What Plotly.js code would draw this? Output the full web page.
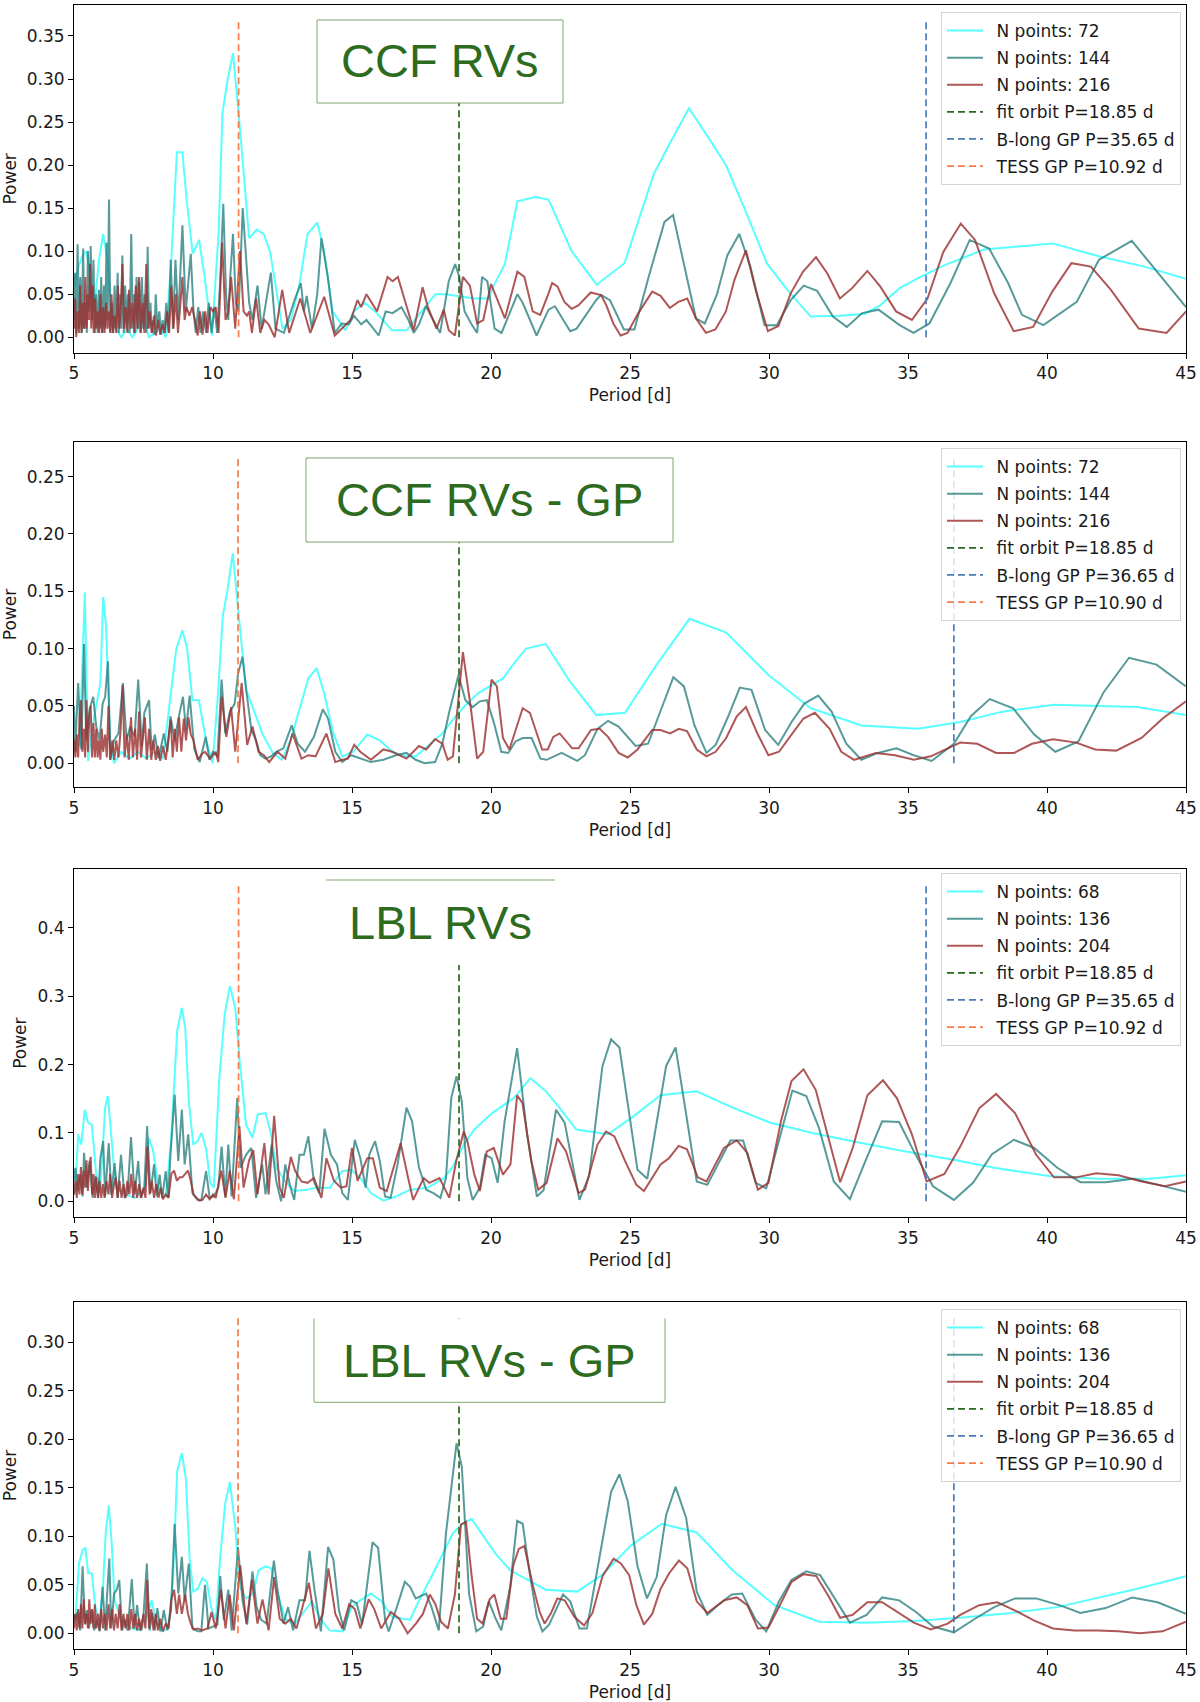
<!DOCTYPE html>
<html>
<head>
<meta charset="utf-8">
<script src="https://cdn.plot.ly/plotly-3.0.1.min.js"></script>
<style>
  html, body { margin: 0; padding: 0; background: #fff; }
  #plot { width: 1200px; height: 1702px; }
</style>
</head>
<body>
<div id="plot"></div>
<script>
// periodograms: [period (d), power]

var ccf72 = [[5.0,0.06],[5.15,0.08],[5.3,0.095],[5.45,0.10],[5.6,0.07],[5.75,0.04],[5.9,0.09],[6.05,0.12],[6.2,0.09],[6.35,0.03],[6.5,0.01],[6.7,0.0],[6.9,0.01],[7.1,0.0],[7.3,0.01],[7.5,0.02],[7.7,0.0],[7.9,0.005],[8.1,0.01],[8.3,0.0],[8.5,0.09],[8.7,0.215],[8.9,0.215],[9.05,0.16],[9.27,0.097],[9.5,0.113],[9.7,0.07],[9.96,0.002],[10.2,0.12],[10.34,0.26],[10.53,0.30],[10.72,0.33],[10.95,0.25],[11.3,0.115],[11.57,0.125],[11.82,0.12],[12.05,0.10],[12.3,0.05],[12.5,0.01],[12.8,0.02],[13.1,0.06],[13.4,0.12],[13.75,0.133],[14.0,0.10],[14.3,0.03],[14.76,0.008],[15.07,0.03],[15.45,0.04],[15.83,0.03],[16.44,0.008],[16.97,0.008],[17.5,0.03],[18.0,0.05],[18.36,0.05],[19.0,0.047],[19.4,0.045],[19.9,0.045],[20.1,0.06],[20.5,0.085],[20.95,0.158],[21.6,0.163],[22.07,0.16],[22.9,0.10],[23.8,0.061],[24.8,0.086],[25.86,0.19],[26.43,0.225],[27.12,0.266],[27.8,0.233],[28.45,0.20],[29.14,0.148],[29.92,0.086],[30.66,0.055],[31.5,0.024],[32.55,0.025],[33.43,0.027],[34.0,0.037],[34.7,0.057],[35.45,0.07],[36.34,0.084],[36.97,0.092],[37.73,0.102],[38.86,0.105],[40.2,0.109],[41.87,0.094],[43.5,0.082],[45.0,0.068]];

var ccf144 = [[5.0,0.02],[5.04,0.075],[5.08,0.005],[5.13,0.108],[5.18,0.01],[5.23,0.07],[5.28,0.005],[5.33,0.103],[5.37,0.01],[5.42,0.04],[5.46,0.005],[5.5,0.10],[5.55,0.03],[5.6,0.106],[5.65,0.02],[5.7,0.09],[5.75,0.005],[5.8,0.05],[5.85,0.005],[5.9,0.055],[5.94,0.01],[5.98,0.07],[6.03,0.005],[6.08,0.06],[6.12,0.01],[6.17,0.11],[6.21,0.02],[6.26,0.16],[6.31,0.005],[6.36,0.04],[6.41,0.005],[6.46,0.06],[6.52,0.01],[6.57,0.075],[6.61,0.005],[6.65,0.05],[6.7,0.01],[6.74,0.095],[6.79,0.005],[6.84,0.06],[6.89,0.01],[6.94,0.05],[7.0,0.005],[7.06,0.12],[7.11,0.01],[7.16,0.05],[7.2,0.005],[7.25,0.07],[7.3,0.01],[7.34,0.065],[7.39,0.005],[7.44,0.07],[7.49,0.01],[7.54,0.05],[7.6,0.005],[7.65,0.105],[7.7,0.01],[7.75,0.04],[7.8,0.005],[7.84,0.02],[7.89,0.003],[7.94,0.05],[8.0,0.01],[8.07,0.03],[8.13,0.003],[8.19,0.02],[8.25,0.005],[8.32,0.04],[8.4,0.005],[8.48,0.09],[8.56,0.01],[8.65,0.09],[8.75,0.02],[8.9,0.13],[9.02,0.03],[9.1,0.06],[9.2,0.097],[9.3,0.03],[9.38,0.005],[9.47,0.035],[9.55,0.005],[9.65,0.03],[9.75,0.005],[9.85,0.04],[9.95,0.005],[10.05,0.035],[10.15,0.005],[10.25,0.06],[10.37,0.155],[10.47,0.05],[10.55,0.02],[10.62,0.07],[10.72,0.12],[10.82,0.04],[10.92,0.03],[11.07,0.15],[11.2,0.08],[11.3,0.04],[11.42,0.02],[11.6,0.06],[11.75,0.01],[11.9,0.04],[12.08,0.075],[12.25,0.01],[12.55,0.005],[12.9,0.04],[13.16,0.063],[13.27,0.03],[13.37,0.048],[13.56,0.01],[13.75,0.05],[13.9,0.115],[14.13,0.07],[14.38,0.005],[14.63,0.016],[14.89,0.015],[15.07,0.025],[15.33,0.015],[15.52,0.02],[15.77,0.01],[15.96,0.002],[16.21,0.03],[16.46,0.028],[16.78,0.035],[17.03,0.02],[17.22,0.005],[17.41,0.015],[17.66,0.036],[17.85,0.025],[18.17,0.005],[18.48,0.065],[18.71,0.085],[18.86,0.07],[19.05,0.03],[19.3,0.015],[19.5,0.005],[19.68,0.07],[19.87,0.065],[20.13,0.01],[20.38,0.005],[20.95,0.05],[21.14,0.04],[21.64,0.002],[22.07,0.032],[22.3,0.036],[22.85,0.007],[23.08,0.01],[23.78,0.043],[23.96,0.049],[24.28,0.043],[24.78,0.009],[25.16,0.009],[25.67,0.07],[26.24,0.134],[26.55,0.142],[27.37,0.022],[27.69,0.016],[28.13,0.05],[28.5,0.095],[28.93,0.12],[29.33,0.082],[29.84,0.014],[30.28,0.014],[30.78,0.043],[31.25,0.06],[31.73,0.054],[32.3,0.024],[32.8,0.012],[33.35,0.028],[33.94,0.032],[34.7,0.014],[35.2,0.005],[35.77,0.016],[36.53,0.063],[37.22,0.113],[37.92,0.103],[38.6,0.063],[39.1,0.026],[39.87,0.014],[41.07,0.041],[41.87,0.09],[43.05,0.112],[45.0,0.035]];

var ccf216 = [[5.0,0.01],[5.04,0.045],[5.08,0.0],[5.13,0.03],[5.18,0.005],[5.22,0.06],[5.27,0.005],[5.32,0.04],[5.36,0.01],[5.41,0.07],[5.45,0.01],[5.5,0.05],[5.54,0.02],[5.58,0.085],[5.62,0.01],[5.67,0.06],[5.71,0.005],[5.76,0.045],[5.8,0.01],[5.85,0.03],[5.9,0.005],[5.95,0.05],[6.0,0.005],[6.05,0.035],[6.1,0.005],[6.15,0.04],[6.2,0.01],[6.25,0.03],[6.3,0.005],[6.35,0.05],[6.4,0.005],[6.46,0.025],[6.52,0.005],[6.58,0.06],[6.63,0.01],[6.69,0.04],[6.74,0.085],[6.8,0.01],[6.86,0.035],[6.92,0.005],[6.98,0.055],[7.04,0.01],[7.1,0.04],[7.16,0.005],[7.22,0.06],[7.28,0.01],[7.34,0.07],[7.4,0.005],[7.47,0.04],[7.53,0.005],[7.6,0.085],[7.66,0.01],[7.72,0.03],[7.8,0.005],[7.88,0.025],[7.95,0.002],[8.03,0.02],[8.1,0.003],[8.18,0.015],[8.26,0.005],[8.35,0.03],[8.42,0.005],[8.5,0.06],[8.58,0.01],[8.66,0.05],[8.74,0.005],[8.83,0.04],[8.9,0.07],[8.98,0.02],[9.05,0.035],[9.15,0.025],[9.25,0.035],[9.35,0.02],[9.45,0.002],[9.53,0.03],[9.62,0.003],[9.72,0.03],[9.8,0.005],[9.9,0.035],[10.0,0.03],[10.1,0.035],[10.2,0.005],[10.33,0.11],[10.45,0.02],[10.55,0.03],[10.65,0.07],[10.8,0.01],[10.97,0.10],[11.1,0.03],[11.22,0.025],[11.3,0.03],[11.4,0.005],[11.55,0.045],[11.7,0.005],[11.85,0.02],[12.0,0.015],[12.22,0.0],[12.49,0.055],[12.74,0.005],[13.14,0.045],[13.5,0.005],[14.0,0.047],[14.38,0.002],[14.95,0.02],[15.2,0.043],[15.33,0.035],[15.52,0.05],[15.9,0.03],[16.28,0.07],[16.46,0.065],[16.65,0.07],[16.97,0.035],[17.22,0.008],[17.54,0.058],[17.73,0.035],[18.04,0.01],[18.3,0.032],[18.48,0.008],[18.7,0.002],[18.99,0.07],[19.24,0.06],[19.5,0.016],[19.72,0.02],[20.0,0.062],[20.25,0.043],[20.5,0.022],[20.95,0.076],[21.2,0.07],[21.5,0.03],[21.77,0.026],[22.07,0.051],[22.2,0.063],[22.39,0.059],[22.64,0.041],[22.9,0.033],[23.14,0.037],[23.59,0.052],[23.96,0.049],[24.15,0.037],[24.4,0.016],[24.66,0.002],[24.91,0.005],[25.3,0.028],[25.8,0.053],[26.1,0.048],[26.43,0.034],[26.74,0.041],[27.06,0.045],[27.37,0.022],[27.73,0.005],[28.07,0.009],[28.45,0.03],[28.76,0.067],[29.17,0.101],[29.52,0.055],[29.96,0.007],[30.34,0.013],[30.78,0.051],[31.22,0.076],[31.69,0.093],[32.1,0.074],[32.55,0.045],[32.99,0.057],[33.54,0.077],[34.0,0.059],[34.57,0.03],[35.14,0.02],[35.7,0.045],[36.27,0.099],[36.9,0.132],[37.41,0.113],[38.1,0.051],[38.8,0.007],[39.5,0.012],[40.19,0.053],[40.88,0.086],[41.58,0.082],[42.3,0.055],[43.3,0.01],[44.3,0.005],[45.0,0.03]];

var ccfGp72 = [[5.0,0.02],[5.2,0.015],[5.39,0.149],[5.51,0.002],[5.65,0.03],[5.8,0.05],[5.95,0.07],[6.05,0.145],[6.15,0.12],[6.3,0.02],[6.44,0.0],[6.7,0.01],[7.0,0.004],[7.3,0.01],[7.6,0.004],[7.9,0.01],[8.2,0.004],[8.47,0.058],[8.68,0.10],[8.9,0.116],[9.07,0.10],[9.26,0.055],[9.49,0.055],[9.75,0.02],[9.99,0.0],[10.19,0.064],[10.35,0.128],[10.52,0.151],[10.71,0.183],[10.93,0.128],[11.19,0.064],[11.38,0.052],[11.77,0.026],[12.15,0.009],[12.47,0.003],[12.79,0.02],[13.11,0.047],[13.43,0.074],[13.73,0.083],[14.0,0.061],[14.33,0.026],[14.65,0.006],[15.04,0.01],[15.55,0.025],[16.0,0.02],[16.45,0.01],[16.9,0.006],[17.29,0.006],[17.73,0.015],[18.25,0.026],[18.63,0.038],[19.02,0.049],[19.53,0.061],[20.04,0.068],[20.43,0.074],[20.82,0.087],[21.26,0.10],[21.97,0.104],[22.85,0.071],[23.79,0.042],[24.82,0.044],[25.96,0.086],[27.14,0.126],[28.46,0.114],[29.98,0.077],[31.5,0.048],[33.32,0.033],[35.36,0.03],[36.88,0.036],[38.4,0.045],[40.25,0.051],[43.25,0.049],[45.0,0.042]];

var ccfGp144 = [[5.0,0.05],[5.05,0.01],[5.09,0.038],[5.15,0.07],[5.26,0.012],[5.36,0.104],[5.44,0.02],[5.56,0.047],[5.69,0.058],[5.8,0.032],[5.92,0.02],[6.03,0.052],[6.12,0.058],[6.22,0.089],[6.31,0.003],[6.44,0.02],[6.6,0.026],[6.76,0.07],[6.89,0.02],[7.02,0.032],[7.18,0.023],[7.31,0.073],[7.44,0.015],[7.53,0.044],[7.7,0.055],[7.79,0.012],[7.91,0.025],[8.04,0.004],[8.23,0.026],[8.36,0.01],[8.47,0.041],[8.62,0.02],[8.75,0.038],[8.92,0.058],[9.03,0.029],[9.16,0.059],[9.33,0.012],[9.52,0.001],[9.74,0.023],[9.87,0.003],[10.0,0.01],[10.16,0.006],[10.31,0.073],[10.44,0.026],[10.61,0.045],[10.78,0.052],[10.9,0.078],[11.06,0.093],[11.21,0.061],[11.38,0.029],[11.55,0.02],[11.7,0.007],[11.89,0.004],[12.09,0.006],[12.28,0.01],[12.53,0.013],[12.83,0.033],[13.05,0.017],[13.31,0.01],[13.63,0.023],[13.95,0.047],[14.14,0.039],[14.4,0.01],[14.65,0.001],[14.97,0.007],[15.3,0.004],[15.68,0.001],[16.13,0.003],[16.58,0.007],[16.96,0.009],[17.29,0.003],[17.61,0.0],[17.99,0.001],[18.25,0.017],[18.5,0.045],[18.83,0.077],[19.08,0.055],[19.34,0.049],[19.6,0.054],[19.85,0.055],[20.11,0.035],[20.37,0.01],[20.62,0.009],[20.88,0.019],[21.14,0.022],[21.46,0.022],[21.78,0.004],[22.0,0.003],[22.54,0.009],[23.1,0.002],[23.38,0.007],[23.83,0.03],[24.21,0.037],[24.59,0.032],[25.2,0.015],[25.65,0.017],[26.1,0.045],[26.56,0.075],[26.94,0.067],[27.32,0.033],[27.75,0.009],[28.08,0.016],[28.5,0.039],[28.95,0.066],[29.37,0.064],[29.86,0.029],[30.33,0.016],[30.81,0.036],[31.27,0.052],[31.77,0.059],[32.25,0.045],[32.78,0.017],[33.32,0.003],[33.92,0.009],[34.58,0.013],[35.21,0.007],[35.85,0.002],[36.65,0.017],[37.26,0.041],[37.94,0.056],[38.78,0.048],[39.54,0.025],[40.3,0.01],[41.13,0.019],[42.04,0.062],[42.95,0.092],[43.94,0.086],[45.0,0.067]];

var ccfGp216 = [[5.0,0.02],[5.05,0.005],[5.1,0.025],[5.15,0.005],[5.2,0.04],[5.25,0.055],[5.3,0.01],[5.35,0.03],[5.4,0.005],[5.45,0.055],[5.5,0.01],[5.55,0.04],[5.6,0.05],[5.65,0.005],[5.7,0.035],[5.75,0.005],[5.8,0.03],[5.85,0.005],[5.9,0.02],[5.95,0.003],[6.0,0.03],[6.05,0.01],[6.12,0.025],[6.18,0.005],[6.24,0.05],[6.3,0.003],[6.38,0.02],[6.45,0.003],[6.52,0.02],[6.6,0.005],[6.68,0.03],[6.75,0.068],[6.82,0.005],[6.9,0.025],[6.97,0.003],[7.05,0.04],[7.12,0.005],[7.2,0.03],[7.27,0.003],[7.34,0.045],[7.41,0.005],[7.48,0.025],[7.55,0.04],[7.62,0.003],[7.7,0.03],[7.78,0.003],[7.86,0.02],[7.94,0.003],[8.02,0.015],[8.1,0.002],[8.2,0.015],[8.3,0.003],[8.4,0.02],[8.48,0.038],[8.55,0.005],[8.63,0.03],[8.7,0.01],[8.78,0.04],[8.86,0.01],[8.95,0.039],[9.03,0.02],[9.12,0.04],[9.2,0.025],[9.3,0.02],[9.45,0.003],[9.6,0.008],[9.71,0.01],[9.9,0.004],[10.1,0.01],[10.19,0.001],[10.31,0.058],[10.48,0.023],[10.65,0.049],[10.8,0.01],[11.03,0.07],[11.23,0.016],[11.42,0.032],[11.64,0.01],[11.83,0.007],[12.02,0.001],[12.32,0.01],[12.6,0.004],[12.86,0.026],[13.18,0.004],[13.43,0.007],[13.69,0.006],[14.08,0.026],[14.4,0.001],[14.65,0.003],[14.85,0.004],[15.08,0.016],[15.3,0.01],[15.68,0.003],[16.13,0.012],[16.45,0.01],[16.96,0.004],[17.41,0.015],[17.67,0.012],[17.99,0.021],[18.25,0.017],[18.44,0.003],[18.63,0.006],[18.99,0.097],[19.27,0.049],[19.5,0.004],[19.72,0.01],[20.02,0.073],[20.21,0.067],[20.43,0.022],[20.66,0.012],[21.14,0.048],[21.4,0.044],[21.84,0.012],[22.04,0.012],[22.24,0.023],[22.47,0.026],[22.92,0.013],[23.15,0.013],[23.6,0.029],[23.91,0.03],[24.21,0.023],[24.59,0.009],[24.92,0.005],[25.27,0.012],[25.8,0.029],[26.1,0.029],[26.44,0.026],[26.76,0.03],[27.05,0.028],[27.4,0.012],[27.75,0.006],[28.08,0.01],[28.46,0.022],[28.84,0.041],[29.17,0.049],[29.6,0.025],[29.98,0.007],[30.36,0.01],[30.81,0.025],[31.24,0.039],[31.65,0.044],[32.18,0.03],[32.6,0.01],[33.06,0.003],[33.85,0.009],[34.53,0.007],[35.21,0.003],[35.82,0.006],[36.43,0.013],[36.88,0.018],[37.49,0.017],[38.17,0.009],[38.82,0.009],[39.46,0.017],[40.22,0.021],[41.05,0.018],[41.73,0.012],[42.49,0.011],[43.4,0.022],[44.16,0.039],[45.0,0.054]];

var lbl68 = [[5.0,0.01],[5.05,0.02],[5.15,0.098],[5.26,0.083],[5.39,0.134],[5.51,0.115],[5.64,0.112],[5.8,0.039],[5.95,0.02],[6.12,0.137],[6.22,0.154],[6.34,0.098],[6.5,0.02],[6.82,0.01],[7.21,0.005],[7.53,0.02],[7.7,0.093],[7.85,0.073],[8.04,0.02],[8.3,0.007],[8.49,0.088],[8.71,0.249],[8.88,0.283],[9.0,0.254],[9.13,0.146],[9.29,0.083],[9.45,0.088],[9.58,0.10],[9.75,0.078],[9.9,0.027],[10.03,0.02],[10.22,0.176],[10.42,0.273],[10.61,0.315],[10.8,0.283],[10.96,0.205],[11.19,0.112],[11.42,0.093],[11.61,0.127],[11.89,0.129],[12.09,0.098],[12.28,0.049],[12.6,0.029],[12.92,0.015],[13.37,0.017],[13.75,0.02],[14.2,0.02],[14.65,0.044],[14.97,0.046],[15.3,0.034],[15.68,0.012],[16.13,0.001],[16.58,0.007],[17.09,0.017],[17.73,0.02],[18.31,0.034],[18.63,0.051],[19.02,0.083],[19.4,0.105],[20.04,0.129],[20.82,0.151],[21.42,0.18],[21.97,0.161],[22.46,0.137],[23.07,0.105],[24.21,0.098],[25.05,0.122],[26.1,0.155],[27.4,0.161],[28.69,0.137],[30.05,0.115],[31.57,0.10],[33.09,0.087],[34.76,0.074],[36.58,0.061],[38.1,0.049],[40.07,0.037],[41.89,0.033],[43.71,0.033],[45.0,0.038]];

var lbl136 = [[5.0,0.03],[5.05,0.049],[5.13,0.015],[5.22,0.039],[5.31,0.007],[5.36,0.071],[5.47,0.02],[5.56,0.059],[5.67,0.005],[5.77,0.037],[5.87,0.005],[5.95,0.063],[6.05,0.088],[6.12,0.007],[6.25,0.085],[6.34,0.01],[6.46,0.056],[6.57,0.005],[6.69,0.068],[6.82,0.005],[6.93,0.012],[7.05,0.094],[7.18,0.01],[7.31,0.059],[7.4,0.005],[7.53,0.02],[7.63,0.11],[7.75,0.012],[7.88,0.054],[7.98,0.007],[8.08,0.039],[8.17,0.005],[8.3,0.044],[8.39,0.005],[8.47,0.068],[8.62,0.156],[8.75,0.059],[8.88,0.134],[8.98,0.054],[9.11,0.098],[9.26,0.012],[9.45,0.002],[9.58,0.002],[9.75,0.044],[9.88,0.005],[10.03,0.007],[10.19,0.02],[10.31,0.08],[10.44,0.007],[10.55,0.083],[10.67,0.007],[10.87,0.151],[10.99,0.049],[11.19,0.068],[11.38,0.078],[11.55,0.005],[11.77,0.054],[11.89,0.01],[12.11,0.083],[12.28,0.029],[12.45,0.0],[12.6,0.054],[12.79,0.02],[12.92,0.002],[13.11,0.068],[13.27,0.068],[13.43,0.095],[13.63,0.029],[13.82,0.012],[14.01,0.106],[14.24,0.068],[14.46,0.054],[14.65,0.012],[14.85,0.002],[15.1,0.09],[15.3,0.063],[15.49,0.02],[15.62,0.068],[15.83,0.088],[16.0,0.059],[16.19,0.007],[16.39,0.005],[16.64,0.054],[16.96,0.137],[17.16,0.117],[17.41,0.049],[17.67,0.017],[17.93,0.012],[18.18,0.005],[18.38,0.034],[18.57,0.151],[18.76,0.183],[18.95,0.146],[19.15,0.034],[19.34,0.002],[19.6,0.02],[19.79,0.068],[20.02,0.063],[20.24,0.027],[20.49,0.117],[20.94,0.224],[21.3,0.098],[21.65,0.007],[21.89,0.016],[22.34,0.134],[22.65,0.115],[23.18,0.002],[23.53,0.037],[24.01,0.198],[24.32,0.237],[24.62,0.225],[25.27,0.046],[25.62,0.033],[26.3,0.198],[26.64,0.225],[27.4,0.029],[27.78,0.024],[28.61,0.089],[29.07,0.089],[29.52,0.027],[29.9,0.019],[30.43,0.102],[30.84,0.162],[31.34,0.154],[31.8,0.107],[32.33,0.029],[32.91,0.003],[33.47,0.059],[34.07,0.117],[34.68,0.116],[35.21,0.073],[35.9,0.022],[36.65,0.002],[37.34,0.027],[38.02,0.069],[38.81,0.09],[39.54,0.078],[40.37,0.049],[41.2,0.028],[42.11,0.028],[43.1,0.033],[44.01,0.024],[45.0,0.014]];

var lbl204 = [[5.0,0.01],[5.05,0.03],[5.1,0.005],[5.15,0.04],[5.2,0.01],[5.25,0.05],[5.3,0.01],[5.35,0.045],[5.4,0.02],[5.45,0.06],[5.5,0.015],[5.55,0.05],[5.6,0.065],[5.65,0.01],[5.7,0.04],[5.75,0.005],[5.8,0.035],[5.86,0.005],[5.92,0.03],[5.98,0.005],[6.04,0.025],[6.1,0.005],[6.17,0.03],[6.24,0.01],[6.3,0.04],[6.37,0.005],[6.44,0.025],[6.5,0.035],[6.57,0.005],[6.64,0.03],[6.71,0.005],[6.78,0.025],[6.85,0.005],[6.92,0.03],[6.99,0.01],[7.06,0.04],[7.13,0.005],[7.2,0.03],[7.27,0.005],[7.34,0.025],[7.42,0.005],[7.5,0.02],[7.57,0.005],[7.64,0.08],[7.72,0.01],[7.8,0.03],[7.88,0.005],[7.96,0.025],[8.04,0.005],[8.12,0.02],[8.2,0.003],[8.3,0.01],[8.4,0.005],[8.5,0.04],[8.6,0.045],[8.7,0.03],[8.8,0.035],[8.9,0.035],[9.0,0.04],[9.1,0.045],[9.2,0.03],[9.3,0.01],[9.4,0.005],[9.52,0.001],[9.62,0.002],[9.75,0.01],[9.88,0.003],[10.0,0.01],[10.1,0.005],[10.3,0.045],[10.45,0.005],[10.6,0.045],[10.75,0.003],[10.95,0.11],[11.1,0.02],[11.3,0.06],[11.45,0.075],[11.6,0.01],[11.85,0.085],[12.0,0.01],[12.2,0.125],[12.4,0.02],[12.55,0.005],[12.8,0.065],[12.95,0.045],[13.18,0.029],[13.4,0.027],[13.63,0.034],[13.9,0.005],[14.08,0.063],[14.35,0.03],[14.6,0.02],[14.8,0.022],[15.0,0.078],[15.2,0.03],[15.55,0.063],[15.75,0.063],[16.0,0.02],[16.25,0.015],[16.75,0.085],[17.02,0.034],[17.2,0.002],[17.58,0.034],[17.78,0.027],[18.15,0.034],[18.5,0.005],[18.75,0.059],[19.02,0.102],[19.15,0.088],[19.4,0.039],[19.6,0.015],[19.85,0.073],[20.1,0.078],[20.43,0.039],[20.7,0.054],[20.94,0.155],[21.13,0.144],[21.45,0.059],[21.7,0.017],[22.0,0.027],[22.39,0.092],[22.7,0.073],[23.15,0.012],[23.38,0.017],[23.83,0.083],[24.14,0.102],[24.44,0.095],[24.82,0.059],[25.23,0.024],[25.5,0.015],[26.1,0.054],[26.4,0.063],[26.75,0.081],[27.05,0.076],[27.44,0.035],[27.75,0.029],[28.38,0.078],[28.84,0.089],[29.22,0.071],[29.6,0.017],[29.98,0.027],[30.43,0.117],[30.81,0.176],[31.24,0.193],[31.68,0.163],[32.18,0.088],[32.56,0.028],[33.01,0.078],[33.54,0.155],[34.1,0.177],[34.6,0.151],[35.14,0.098],[35.67,0.029],[36.31,0.04],[36.88,0.08],[37.56,0.136],[38.17,0.157],[38.85,0.129],[39.61,0.068],[40.25,0.035],[41.05,0.035],[41.77,0.041],[42.57,0.038],[43.41,0.029],[44.24,0.022],[45.0,0.029]];

var lblGp68 = [[5.0,0.01],[5.05,0.014],[5.18,0.072],[5.31,0.086],[5.41,0.088],[5.51,0.062],[5.64,0.062],[5.77,0.027],[5.92,0.012],[6.05,0.052],[6.14,0.103],[6.25,0.132],[6.35,0.096],[6.46,0.034],[6.69,0.014],[7.08,0.005],[7.4,0.003],[7.59,0.014],[7.79,0.034],[7.98,0.01],[8.17,0.002],[8.39,0.005],[8.56,0.055],[8.71,0.167],[8.88,0.186],[9.03,0.158],[9.16,0.076],[9.29,0.043],[9.45,0.046],[9.62,0.057],[9.78,0.053],[9.94,0.026],[10.1,0.014],[10.26,0.079],[10.44,0.134],[10.61,0.156],[10.8,0.11],[10.96,0.048],[11.19,0.036],[11.44,0.041],[11.64,0.065],[11.89,0.069],[12.09,0.067],[12.32,0.041],[12.6,0.015],[12.92,0.009],[13.24,0.021],[13.56,0.033],[13.88,0.014],[14.2,0.003],[14.65,0.002],[14.97,0.026],[15.3,0.034],[15.68,0.041],[16.06,0.033],[16.45,0.017],[16.83,0.015],[17.09,0.014],[17.41,0.034],[17.8,0.055],[18.25,0.081],[18.63,0.103],[18.96,0.113],[19.3,0.118],[19.66,0.103],[20.17,0.082],[20.69,0.065],[21.33,0.055],[21.97,0.045],[23.1,0.043],[23.98,0.06],[25.05,0.091],[26.15,0.113],[27.4,0.104],[28.69,0.065],[30.2,0.029],[31.8,0.012],[33.54,0.011],[35.36,0.013],[36.88,0.016],[38.7,0.021],[40.37,0.027],[41.74,0.036],[43.25,0.046],[45.0,0.059]];

var lblGp136 = [[5.0,0.02],[5.05,0.014],[5.13,0.022],[5.22,0.003],[5.31,0.069],[5.39,0.009],[5.47,0.024],[5.54,0.005],[5.64,0.024],[5.73,0.003],[5.82,0.014],[5.92,0.002],[6.03,0.048],[6.12,0.003],[6.18,0.034],[6.27,0.077],[6.34,0.005],[6.44,0.041],[6.54,0.045],[6.63,0.055],[6.73,0.003],[6.82,0.014],[6.93,0.003],[7.08,0.056],[7.18,0.005],[7.27,0.029],[7.37,0.003],[7.5,0.019],[7.62,0.072],[7.72,0.003],[7.82,0.021],[7.91,0.003],[8.0,0.026],[8.11,0.002],[8.23,0.024],[8.36,0.003],[8.49,0.024],[8.62,0.113],[8.75,0.041],[8.88,0.079],[8.98,0.034],[9.13,0.072],[9.26,0.005],[9.45,0.002],[9.58,0.002],[9.71,0.05],[9.84,0.005],[10.01,0.007],[10.16,0.009],[10.26,0.059],[10.39,0.014],[10.55,0.045],[10.67,0.003],[10.9,0.089],[11.06,0.034],[11.23,0.009],[11.42,0.064],[11.57,0.027],[11.73,0.014],[11.93,0.01],[12.19,0.075],[12.34,0.041],[12.54,0.01],[12.7,0.027],[12.88,0.003],[13.11,0.034],[13.31,0.034],[13.47,0.085],[13.65,0.045],[13.88,0.002],[14.14,0.089],[14.33,0.076],[14.53,0.024],[14.72,0.003],[14.97,0.034],[15.17,0.031],[15.36,0.009],[15.74,0.094],[15.94,0.088],[16.19,0.014],[16.32,0.002],[16.58,0.024],[16.9,0.053],[17.09,0.048],[17.29,0.036],[17.67,0.041],[17.86,0.027],[18.12,0.003],[18.38,0.103],[18.76,0.196],[18.95,0.172],[19.21,0.041],[19.47,0.002],[19.72,0.007],[19.92,0.033],[20.17,0.015],[20.37,0.003],[20.69,0.048],[20.94,0.116],[21.14,0.113],[21.39,0.062],[21.65,0.017],[21.85,0.002],[22.09,0.009],[22.59,0.04],[22.85,0.033],[23.18,0.005],[23.45,0.005],[24.01,0.096],[24.32,0.146],[24.62,0.164],[24.92,0.136],[25.27,0.069],[25.61,0.036],[25.96,0.058],[26.3,0.122],[26.64,0.151],[27.02,0.119],[27.4,0.043],[27.78,0.019],[28.16,0.029],[28.66,0.04],[29.04,0.041],[29.52,0.014],[29.9,0.002],[30.36,0.033],[30.81,0.055],[31.34,0.064],[31.84,0.06],[32.4,0.034],[32.91,0.011],[33.51,0.019],[34.07,0.037],[34.68,0.034],[35.29,0.022],[35.9,0.007],[36.65,0.001],[37.41,0.015],[38.1,0.027],[38.85,0.036],[39.61,0.036],[40.45,0.029],[41.2,0.021],[42.11,0.026],[43.07,0.037],[43.98,0.032],[45.0,0.02]];

var lblGp204 = [[5.0,0.005],[5.05,0.02],[5.1,0.003],[5.15,0.025],[5.2,0.005],[5.25,0.03],[5.3,0.005],[5.35,0.035],[5.4,0.01],[5.45,0.02],[5.5,0.005],[5.55,0.035],[5.6,0.01],[5.65,0.025],[5.7,0.005],[5.75,0.03],[5.8,0.005],[5.86,0.02],[5.92,0.003],[5.98,0.025],[6.04,0.005],[6.1,0.02],[6.17,0.003],[6.24,0.03],[6.3,0.005],[6.37,0.025],[6.44,0.003],[6.5,0.02],[6.57,0.005],[6.64,0.03],[6.71,0.003],[6.78,0.02],[6.85,0.005],[6.92,0.02],[6.99,0.003],[7.06,0.025],[7.13,0.005],[7.2,0.02],[7.27,0.003],[7.34,0.015],[7.42,0.003],[7.5,0.02],[7.57,0.005],[7.63,0.055],[7.7,0.005],[7.78,0.025],[7.86,0.003],[7.94,0.02],[8.02,0.003],[8.1,0.015],[8.2,0.002],[8.3,0.01],[8.4,0.005],[8.5,0.035],[8.6,0.045],[8.7,0.02],[8.78,0.04],[8.88,0.02],[9.0,0.04],[9.1,0.02],[9.2,0.01],[9.3,0.004],[9.45,0.005],[9.6,0.003],[9.8,0.005],[9.95,0.022],[10.1,0.005],[10.28,0.045],[10.45,0.005],[10.6,0.04],[10.75,0.003],[10.98,0.07],[11.2,0.01],[11.4,0.055],[11.6,0.01],[11.78,0.035],[12.0,0.003],[12.2,0.058],[12.4,0.015],[12.6,0.01],[12.8,0.015],[13.0,0.005],[13.2,0.025],[13.45,0.052],[13.7,0.005],[13.95,0.02],[14.15,0.067],[14.4,0.02],[14.65,0.005],[14.9,0.03],[15.1,0.025],[15.3,0.005],[15.6,0.035],[15.8,0.025],[16.05,0.005],[16.4,0.022],[16.7,0.015],[17.0,0.0],[17.3,0.01],[17.55,0.02],[17.8,0.04],[18.0,0.03],[18.2,0.012],[18.45,0.005],[18.7,0.04],[18.92,0.112],[19.1,0.115],[19.3,0.06],[19.5,0.015],[19.7,0.01],[19.95,0.035],[20.12,0.04],[20.35,0.015],[20.55,0.015],[20.8,0.07],[21.0,0.087],[21.2,0.09],[21.5,0.05],[21.75,0.022],[21.93,0.01],[22.16,0.021],[22.39,0.036],[22.65,0.034],[23.0,0.017],[23.35,0.008],[23.65,0.021],[24.01,0.059],[24.41,0.077],[24.67,0.072],[24.97,0.06],[25.23,0.029],[25.5,0.009],[25.8,0.02],[26.1,0.046],[26.41,0.062],[26.76,0.075],[27.06,0.067],[27.4,0.033],[27.78,0.021],[28.38,0.034],[28.84,0.037],[29.22,0.029],[29.6,0.005],[29.98,0.006],[30.39,0.029],[30.81,0.053],[31.24,0.061],[31.7,0.059],[32.15,0.038],[32.56,0.016],[33.01,0.019],[33.54,0.032],[34.07,0.032],[34.6,0.022],[35.21,0.011],[35.82,0.004],[36.43,0.01],[36.88,0.019],[37.56,0.029],[38.21,0.032],[38.82,0.024],[39.54,0.013],[40.22,0.005],[40.98,0.003],[41.82,0.003],[42.57,0.002],[43.33,0.0],[44.16,0.002],[45.0,0.012]];

var series = [[ccf72, ccf144, ccf216], [ccfGp72, ccfGp144, ccfGp216], [lbl68, lbl136, lbl204], [lblGp68, lblGp136, lblGp204]];
var nPoints = [[72, 144, 216], [72, 144, 216], [68, 136, 204], [68, 136, 204]];
var boxTitles = ['CCF RVs', 'CCF RVs - GP', 'LBL RVs', 'LBL RVs - GP'];

// reference periods (d) and the height the dashed markers reach
var orbitPeriod = [18.85, 18.85, 18.85, 18.85];
var blongPeriod = [35.65, 36.65, 35.65, 36.65];
var tessPeriod = [10.92, 10.90, 10.92, 10.90];
var markerTop = [0.366, 0.266, 0.463, 0.325];

// layout in pixels of the 1200x1702 picture
var plotLeft = 74, plotRight = 1186;
var axTop = [5, 441.7, 869, 1301.7];
var axBottom = [352.7, 787.3, 1217.3, 1649.3];
var yRanges = [[-0.018, 0.386], [-0.021, 0.2805], [-0.0234, 0.486], [-0.0165, 0.342]];
var yDtick = [0.05, 0.05, 0.1, 0.05];
var yFormat = ['.2f', '.2f', '.1f', '.2f'];
var legendTop = [12, 448, 873, 1309];
var legendRight = 1181;
var boxPx = [[317, 563, 20, 103], [306, 673, 458, 542], [326, 555, 880, 965], [314, 665, 1318.5, 1402.3]];
var boxEdges = [['t', 'b', 'l', 'r'], ['t', 'b', 'l', 'r'], ['t'], ['b', 'l', 'r']];
var textMidPx = [60.7, 500, 922, 1360];

var H = 1702;
var lineColors = ['rgba(0,255,255,0.66)', 'rgba(40,125,125,0.78)', 'rgba(155,45,45,0.8)'];
var markColors = ['#2a6a1c', '#4a7bb7', 'rgba(245,110,55,0.9)'];
var green = '#2d6b1e';

function dx(px) { return (px - plotLeft) / (plotRight - plotLeft); }
function dy(i, px) { return (axBottom[i] - px) / (axBottom[i] - axTop[i]); }

var traces = [];
var layout = {
  width: 1200, height: H,
  margin: {l: plotLeft, r: 1200 - plotRight, t: 0, b: 0},
  paper_bgcolor: '#fff', plot_bgcolor: '#fff',
  font: {family: 'DejaVu Sans', size: 17, color: '#1a1a1a'},
  showlegend: true,
  shapes: [], annotations: []
};

for (var i = 0; i < 4; i++) {
  var sx = i === 0 ? '' : String(i + 1);
  var legName = 'legend' + sx;

  for (var k = 0; k < 3; k++) {
    var pts = series[i][k];
    traces.push({
      x: pts.map(function (p) { return p[0]; }),
      y: pts.map(function (p) { return p[1]; }),
      type: 'scatter', mode: 'lines',
      name: '\u2002N points: ' + nPoints[i][k],
      line: {color: lineColors[k], width: 2},
      xaxis: 'x' + sx, yaxis: 'y' + sx,
      legend: legName, legendgroup: 'g' + i + k,
      hoverinfo: 'skip'
    });
  }

  var marks = [
    ['fit orbit P=' + orbitPeriod[i].toFixed(2) + ' d', orbitPeriod[i]],
    ['B-long GP P=' + blongPeriod[i].toFixed(2) + ' d', blongPeriod[i]],
    ['TESS GP P=' + tessPeriod[i].toFixed(2) + ' d', tessPeriod[i]]
  ];
  for (var m = 0; m < 3; m++) {
    traces.push({
      x: [marks[m][1], marks[m][1]],
      y: [0, markerTop[i]],
      type: 'scatter', mode: 'lines',
      name: '\u2002' + marks[m][0],
      line: {color: markColors[m], width: 1.7, dash: '7px,4px'},
      xaxis: 'x' + sx, yaxis: 'y' + sx,
      legend: legName, legendgroup: 'm' + i + m,
      hoverinfo: 'skip'
    });
  }

  layout['xaxis' + sx] = {
    domain: [0, 1], anchor: 'y' + sx,
    range: [5, 45], tick0: 5, dtick: 5,
    showgrid: false, zeroline: false,
    showline: true, mirror: true, linecolor: '#000', linewidth: 1,
    ticks: 'outside', ticklen: 5, tickwidth: 1, tickcolor: '#000',
    tickfont: {size: 17},
    title: {text: 'Period [d]', standoff: 7, font: {size: 17}}
  };
  layout['yaxis' + sx] = {
    domain: [1 - axBottom[i] / H, 1 - axTop[i] / H], anchor: 'x' + sx,
    range: yRanges[i], tick0: 0, dtick: yDtick[i], tickformat: yFormat[i],
    showgrid: false, zeroline: false,
    showline: true, mirror: true, linecolor: '#000', linewidth: 1,
    ticks: 'outside', ticklen: 5, tickwidth: 1, tickcolor: '#000',
    tickfont: {size: 17},
    title: {text: 'Power', standoff: 6, font: {size: 17}}
  };
  layout[legName] = {
    x: dx(legendRight), xanchor: 'right',
    y: 1 - legendTop[i] / H, yanchor: 'top',
    bgcolor: 'rgba(255,255,255,0.8)', bordercolor: '#d4d4d4', borderwidth: 1,
    font: {family: 'DejaVu Sans', size: 17, color: '#1a1a1a'},
    itemwidth: 36, tracegroupgap: 2, traceorder: 'grouped'
  };

  // white label box over the plot, with the edges that show in the picture
  var b = boxPx[i];
  var xr = 'x' + sx + ' domain', yr = 'y' + sx + ' domain';
  var x0 = dx(b[0]), x1 = dx(b[1]), y0 = dy(i, b[3]), y1 = dy(i, b[2]);
  layout.shapes.push({type: 'rect', xref: xr, yref: yr, x0: x0, x1: x1, y0: y0, y1: y1,
    fillcolor: '#fff', line: {width: 0}, layer: 'above'});
  var edgeLine = {color: '#7fa86f', width: 1};
  boxEdges[i].forEach(function (e) {
    var s = {type: 'line', xref: xr, yref: yr, line: edgeLine, layer: 'above'};
    if (e === 't') { s.x0 = x0; s.x1 = x1; s.y0 = y1; s.y1 = y1; }
    if (e === 'b') { s.x0 = x0; s.x1 = x1; s.y0 = y0; s.y1 = y0; }
    if (e === 'l') { s.x0 = x0; s.x1 = x0; s.y0 = y0; s.y1 = y1; }
    if (e === 'r') { s.x0 = x1; s.x1 = x1; s.y0 = y0; s.y1 = y1; }
    layout.shapes.push(s);
  });
  layout.annotations.push({
    text: boxTitles[i], xref: xr, yref: yr,
    x: (x0 + x1) / 2, y: dy(i, textMidPx[i]),
    xanchor: 'center', yanchor: 'middle', showarrow: false,
    font: {family: 'Liberation Sans', size: 47, color: green}
  });
}

Plotly.newPlot('plot', traces, layout, {staticPlot: true});
</script>
</body>
</html>
